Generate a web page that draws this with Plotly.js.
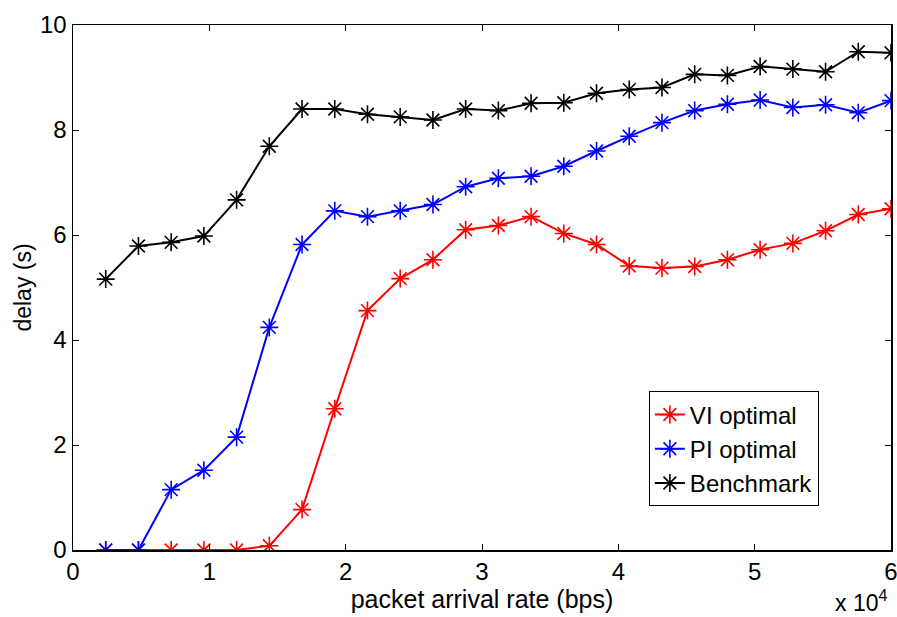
<!DOCTYPE html>
<html>
<head>
<meta charset="utf-8">
<script src="https://cdn.plot.ly/plotly-3.0.1.min.js"></script>
<style>html,body{margin:0;padding:0;background:#fff;}#chart{width:897px;height:617px;}</style>
</head>
<body>
<div id="chart"></div>
<script>
const arrivalRate = [2400, 4800, 7200, 9600, 12000, 14400, 16800, 19200, 21600, 24000, 26400, 28800, 31200, 33600, 36000, 38400, 40800, 43200, 45600, 48000, 50400, 52800, 55200, 57600, 60000];
const viOptimal = [0, 0, 0, 0, 0, 0.08, 0.77, 2.69, 4.56, 5.17, 5.53, 6.10, 6.18, 6.35, 6.03, 5.82, 5.41, 5.37, 5.40, 5.53, 5.72, 5.84, 6.08, 6.39, 6.50];
const piOptimal = [0, 0, 1.15, 1.52, 2.15, 4.24, 5.82, 6.46, 6.35, 6.46, 6.58, 6.92, 7.08, 7.12, 7.31, 7.60, 7.88, 8.14, 8.37, 8.49, 8.57, 8.43, 8.48, 8.33, 8.56];
const benchmark = [5.16, 5.79, 5.86, 5.98, 6.67, 7.69, 8.40, 8.40, 8.30, 8.25, 8.19, 8.40, 8.37, 8.51, 8.52, 8.70, 8.77, 8.81, 9.06, 9.04, 9.21, 9.16, 9.11, 9.49, 9.47];
const seriesNames = ["VI optimal", "PI optimal", "Benchmark"];
const seriesColors = ["#ff0000", "#0000ff", "#000000"];
const xTickVals = [0, 10000, 20000, 30000, 40000, 50000, 60000];
const xTickText = ["0", "1", "2", "3", "4", "5", "6"];
const yTickVals = [0, 2, 4, 6, 8, 10];

const font = "Liberation Sans, Arial, Helvetica, sans-serif";
const ys = [viOptimal, piOptimal, benchmark];
const traces = ys.map((y, i) => ({
  x: arrivalRate, y: y, name: seriesNames[i], type: "scatter", mode: "lines+markers",
  line: {color: seriesColors[i], width: 2},
  marker: {symbol: "asterisk-open", size: 15, color: seriesColors[i], line: {color: seriesColors[i], width: 1.6}}
}));

const layout = {
  width: 897, height: 617,
  margin: {l: 73, r: 6, t: 25, b: 67},
  paper_bgcolor: "#fff", plot_bgcolor: "#fff",
  font: {family: font, size: 24, color: "#000"},
  showlegend: true,
  legend: {x: 0.704, y: 0.302, xanchor: "left", yanchor: "top", bgcolor: "#fff",
           bordercolor: "#000", borderwidth: 1, font: {family: font, size: 24, color: "#000"},
           tracegroupgap: 0, itemwidth: 30},
  xaxis: {range: [0, 60000], tickvals: xTickVals, ticktext: xTickText, ticks: "inside", ticklen: 6,
          tickcolor: "#000", showgrid: false, zeroline: false, showline: true, linecolor: "#000",
          linewidth: 1.5, mirror: "allticks", tickfont: {family: font, size: 24},
          ticklabeloverflow: "allow",
          title: {text: "packet arrival rate (bps)", font: {family: font, size: 25}, standoff: 0}},
  yaxis: {range: [0, 10], tickvals: yTickVals, ticks: "inside", ticklen: 6,
          tickcolor: "#000", showgrid: false, zeroline: false, showline: true, linecolor: "#000",
          linewidth: 1.5, mirror: "allticks", tickfont: {family: font, size: 24},
          ticklabeloverflow: "allow",
          title: {text: "delay (s)", font: {family: font, size: 23}, standoff: 2}},
  annotations: [{xref: "paper", yref: "paper", x: 1, y: 0, xanchor: "right", yanchor: "bottom",
                 yshift: -68, xshift: -2, showarrow: false,
                 text: "x 10<sup>4</sup>", font: {family: font, size: 23, color: "#000"}}]
};
Plotly.newPlot("chart", traces, layout, {displayModeBar: false, staticPlot: true});
</script>
</body>
</html>
